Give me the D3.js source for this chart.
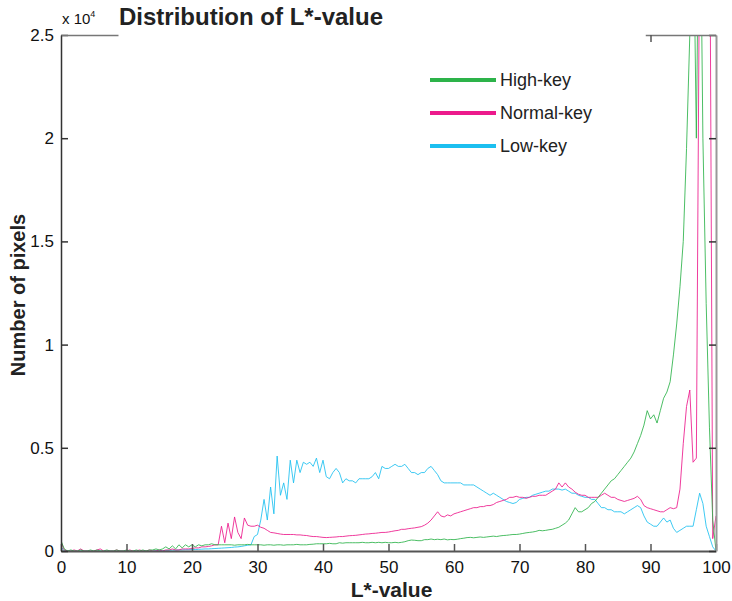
<!DOCTYPE html>
<html>
<head>
<meta charset="utf-8">
<script src="https://cdn.jsdelivr.net/npm/d3@7"></script>
<style>
  body { margin: 0; background: #fff; }
  text { font-family: "Liberation Sans", Arial, Helvetica, sans-serif; }
</style>
</head>
<body>
<div id="root"></div>
<script>
// L* bins, every 0.5 from 0 to 100
const lBins = d3.range(0, 100.5, 0.5)

// counts in units of 10^4 pixels, one per bin
const highKey = [
  0.05, 0.01, 0, 0.005, 0, 0, 0.005, 0, 0, 0.005,
  0, 0.005, 0, 0, 0.005, 0, 0, 0.005, 0, 0,
  0.005, 0, 0, 0.005, 0, 0.005, 0, 0.005, 0.005, 0.01,
  0.005, 0.01, 0.02, 0.01, 0.025, 0.01, 0.03, 0.015, 0.03, 0.02,
  0.03, 0.02, 0.03, 0.025, 0.03, 0.03, 0.035, 0.03, 0.03, 0.03,
  0.03, 0.03, 0.03, 0.028, 0.03, 0.03, 0.03, 0.032, 0.03, 0.03,
  0.03, 0.03, 0.028, 0.03, 0.03, 0.028, 0.03, 0.03, 0.028, 0.03,
  0.03, 0.03, 0.032, 0.03, 0.03, 0.03, 0.032, 0.033, 0.035, 0.035,
  0.035, 0.035, 0.037, 0.035, 0.035, 0.04, 0.038, 0.04, 0.04, 0.04,
  0.04, 0.04, 0.042, 0.04, 0.04, 0.042, 0.04, 0.042, 0.04, 0.042,
  0.04, 0.04, 0.042, 0.04, 0.042, 0.045, 0.05, 0.053, 0.052, 0.05,
  0.05, 0.055, 0.055, 0.058, 0.055, 0.057, 0.055, 0.058, 0.054, 0.056,
  0.055, 0.057, 0.06, 0.062, 0.065, 0.066, 0.064, 0.066, 0.068, 0.066,
  0.068, 0.07, 0.072, 0.07, 0.073, 0.075, 0.076, 0.078, 0.08, 0.08,
  0.082, 0.085, 0.088, 0.09, 0.092, 0.095, 0.1, 0.098, 0.1, 0.103,
  0.105, 0.11, 0.115, 0.125, 0.135, 0.15, 0.18, 0.21, 0.19, 0.19,
  0.2, 0.21, 0.23, 0.24, 0.26, 0.28, 0.3, 0.32, 0.34, 0.35,
  0.37, 0.39, 0.41, 0.43, 0.45, 0.48, 0.52, 0.56, 0.61, 0.68,
  0.64, 0.66, 0.62, 0.68, 0.74, 0.77, 0.82, 0.95, 1.1, 1.28,
  1.5, 1.95, 2.5, 3.2, 2.0, 3.5, 2.0, 1.2, 0.6, 0.15,
  0
]

const normalKey = [
  0.045, 0.005, 0, 0, 0.005, 0, 0.01, 0, 0, 0,
  0, 0.005, 0.01, 0, 0, 0, 0, 0.005, 0, 0,
  0, 0.005, 0, 0, 0.005, 0, 0, 0.005, 0, 0,
  0.005, 0, 0.005, 0.005, 0.01, 0.005, 0.005, 0.01, 0.01, 0.01,
  0.012, 0.015, 0.015, 0.02, 0.02, 0.022, 0.025, 0.03, 0.03, 0.12,
  0.04, 0.135, 0.06, 0.165, 0.09, 0.06, 0.16, 0.125, 0.12, 0.12,
  0.125, 0.115, 0.11, 0.1, 0.09, 0.088, 0.085, 0.082, 0.08, 0.08,
  0.08, 0.08, 0.078, 0.078, 0.076, 0.075, 0.072, 0.07, 0.07, 0.068,
  0.066, 0.065, 0.066, 0.067, 0.068, 0.07, 0.07, 0.072, 0.074, 0.075,
  0.076, 0.078, 0.08, 0.082, 0.083, 0.085, 0.086, 0.088, 0.09, 0.09,
  0.092, 0.095, 0.098, 0.1, 0.105, 0.105, 0.108, 0.11, 0.112, 0.115,
  0.118, 0.125, 0.135, 0.15, 0.17, 0.19, 0.17, 0.165, 0.175, 0.17,
  0.18, 0.185, 0.19, 0.195, 0.2, 0.205, 0.21, 0.21, 0.215, 0.215,
  0.22, 0.22, 0.225, 0.235, 0.24, 0.245, 0.25, 0.26, 0.26, 0.265,
  0.26, 0.26, 0.255, 0.26, 0.265, 0.265, 0.27, 0.27, 0.27, 0.28,
  0.29, 0.3, 0.33, 0.31, 0.33, 0.31, 0.3, 0.285, 0.275, 0.27,
  0.27, 0.26, 0.26, 0.26, 0.26, 0.27, 0.28, 0.27, 0.26, 0.26,
  0.25, 0.245, 0.24, 0.245, 0.25, 0.255, 0.265, 0.25, 0.22, 0.21,
  0.205, 0.2, 0.195, 0.19, 0.19, 0.2, 0.21, 0.205, 0.21, 0.3,
  0.52, 0.7, 0.78, 0.43, 0.45, 3.0, 3.5, 4.0, 3.5, 0.06,
  0.17
]

const lowKey = [
  0.02, 0, 0, 0, 0, 0, 0, 0, 0, 0,
  0, 0, 0, 0, 0, 0, 0, 0, 0, 0,
  0, 0, 0, 0, 0, 0, 0, 0, 0, 0.002,
  0.002, 0.002, 0.003, 0.003, 0.004, 0.004, 0.005, 0.005, 0.006, 0.006,
  0.007, 0.007, 0.008, 0.009, 0.01, 0.01, 0.011, 0.012, 0.013, 0.014,
  0.015, 0.016, 0.017, 0.019, 0.02, 0.022, 0.025, 0.028, 0.03, 0.07,
  0.08, 0.15, 0.25, 0.15, 0.31, 0.18, 0.46, 0.27, 0.33, 0.25,
  0.44, 0.33, 0.44, 0.38, 0.43, 0.42, 0.43, 0.41, 0.45, 0.38,
  0.44, 0.36, 0.35, 0.38, 0.4, 0.38, 0.33, 0.35, 0.34, 0.34,
  0.33, 0.35, 0.35, 0.35, 0.35, 0.36, 0.38, 0.35, 0.41, 0.4,
  0.4, 0.41, 0.42, 0.41, 0.41, 0.42, 0.4, 0.38, 0.38, 0.37,
  0.38, 0.38, 0.4, 0.41, 0.39, 0.37, 0.34, 0.33, 0.33, 0.33,
  0.33, 0.33, 0.33, 0.32, 0.32, 0.32, 0.32, 0.31, 0.3, 0.29,
  0.28, 0.27, 0.28, 0.27, 0.26, 0.25, 0.24, 0.235, 0.23, 0.235,
  0.25, 0.255, 0.26, 0.26, 0.27, 0.275, 0.28, 0.285, 0.29, 0.29,
  0.3, 0.3, 0.3, 0.295, 0.3, 0.29, 0.28, 0.28, 0.27, 0.265,
  0.26, 0.26, 0.25, 0.25, 0.23, 0.21, 0.21, 0.2, 0.2, 0.19,
  0.19, 0.19, 0.18, 0.19, 0.2, 0.21, 0.22, 0.21, 0.17, 0.14,
  0.13, 0.12, 0.12, 0.14, 0.16, 0.14, 0.15, 0.11, 0.09, 0.1,
  0.11, 0.12, 0.12, 0.12, 0.2, 0.28, 0.23, 0.12, 0.07, 0.02,
  0
]

const seriesNames = ['High-key', 'Normal-key', 'Low-key']
const seriesColors = ['#2db34a', '#ec1a8c', '#1cbff0']
const seriesValues = [highKey, normalKey, lowKey]

const xTicks = [0, 10, 20, 30, 40, 50, 60, 70, 80, 90, 100]
const yTicks = [0, 0.5, 1, 1.5, 2, 2.5]

const w = 732
const h = 601
const margin = { left: 61, right: 16, top: 35, bottom: 50 }

const xScale = d3.scaleLinear()
  .domain([0, 100])
  .range([margin.left, w - margin.right])

const yScale = d3.scaleLinear()
  .domain([0, 2.5])
  .range([h - margin.bottom, margin.top])

const svg = d3.select('#root')
  .append('svg')
  .attr('width', w)
  .attr('height', h)

svg.append('clipPath')
  .attr('id', 'plot-clip')
  .append('rect')
    .attr('x', margin.left)
    .attr('y', margin.top)
    .attr('width', xScale(100) - xScale(0))
    .attr('height', yScale(0) - yScale(2.5))

const line = d3.line()
  .x((d, i) => xScale(lBins[i]))
  .y(d => yScale(d))

const lines = svg.append('g')
  .attr('clip-path', 'url(#plot-clip)')

// drawn in reverse so that green sits on top like the original
seriesValues.slice().reverse().forEach((vals, j) => {
  const k = seriesValues.length - 1 - j
  lines.append('path')
    .datum(vals)
    .attr('fill', 'none')
    .attr('stroke', seriesColors[k])
    .attr('stroke-width', 1)
    .attr('stroke-opacity', 0.85)
    .attr('d', line)
})

const tickLen = 7

// bottom axis, ticks inside
const xAxis = d3.axisBottom(xScale)
  .tickValues(xTicks)
  .tickSizeInner(-tickLen)
  .tickSizeOuter(0)
  .tickPadding(10)

const gx = svg.append('g')
  .attr('transform', 'translate(0,' + yScale(0) + ')')
  .call(xAxis)
gx.select('.domain').attr('stroke', '#555').attr('stroke-width', 2)
gx.selectAll('.tick line').attr('stroke', '#555').attr('stroke-width', 1.5)
gx.selectAll('.tick text')
  .attr('font-size', 17)
  .attr('fill', '#111')
  .style('font-family', '"Liberation Sans", Arial, sans-serif')

// left axis
const yAxis = d3.axisLeft(yScale)
  .tickValues(yTicks)
  .tickFormat(d => d)
  .tickSizeInner(-tickLen)
  .tickSizeOuter(0)
  .tickPadding(7)

const gy = svg.append('g')
  .attr('transform', 'translate(' + xScale(0) + ',0)')
  .call(yAxis)
gy.select('.domain').attr('stroke', '#333').attr('stroke-width', 1.5)
gy.selectAll('.tick line').attr('stroke', '#333').attr('stroke-width', 1.5)
gy.selectAll('.tick text')
  .attr('font-size', 17)
  .attr('fill', '#111')
  .style('font-family', '"Liberation Sans", Arial, sans-serif')

// right axis, no labels
const gr = svg.append('g')
  .attr('transform', 'translate(' + xScale(100) + ',0)')
  .call(d3.axisRight(yScale).tickValues(yTicks).tickFormat('').tickSizeInner(-tickLen).tickSizeOuter(0))
gr.select('.domain').attr('stroke', '#999').attr('stroke-width', 2)
gr.selectAll('.tick line').attr('stroke', '#333').attr('stroke-width', 1.5)

// top border is only visible outside the title box
const topSegments = [[0, 8.7], [89.2, 100]]
topSegments.forEach(seg => {
  const gt = svg.append('g')
    .attr('transform', 'translate(0,' + yScale(2.5) + ')')
    .call(d3.axisTop(xScale.copy().domain(seg).range(seg.map(xScale)))
      .tickValues(xTicks.filter(t => t > seg[0] && t < seg[1]))
      .tickFormat('')
      .tickSizeInner(-tickLen)
      .tickSizeOuter(0))
  gt.select('.domain').attr('stroke', '#777').attr('stroke-width', 1.5)
  gt.selectAll('.tick line').attr('stroke', '#555').attr('stroke-width', 1.5)
})

// exponent label
const expo = svg.append('text')
  .attr('x', xScale(0) + 1)
  .attr('y', yScale(2.5) - 11)
  .attr('font-size', 15)
  .attr('fill', '#111')
expo.append('tspan').text('x 10')
expo.append('tspan').attr('font-size', 9).attr('dy', -7).text('4')

// title
svg.append('text')
  .attr('x', 119)
  .attr('y', 25)
  .attr('font-size', 24)
  .attr('font-weight', 'bold')
  .attr('fill', '#222')
  .text('Distribution of L*-value')

// axis titles
svg.append('text')
  .attr('x', (xScale(0) + xScale(100)) / 2 + 3)
  .attr('y', 597)
  .attr('text-anchor', 'middle')
  .attr('font-size', 21)
  .attr('font-weight', 'bold')
  .attr('fill', '#222')
  .text('L*-value')

svg.append('text')
  .attr('transform', 'translate(25,' + 295 + ') rotate(-90)')
  .attr('text-anchor', 'middle')
  .attr('font-size', 20)
  .attr('font-weight', 'bold')
  .attr('fill', '#222')
  .text('Number of pixels')

// legend
const legend = svg.append('g')
  .attr('transform', 'translate(430, 80)')

seriesNames.forEach((name, i) => {
  const row = legend.append('g')
    .attr('transform', 'translate(0,' + i * 33 + ')')
  row.append('line')
    .attr('x1', 0)
    .attr('x2', 66)
    .attr('stroke', seriesColors[i])
    .attr('stroke-width', 4)
  row.append('text')
    .attr('x', 70)
    .attr('y', 6)
    .attr('font-size', 18)
    .attr('fill', '#222')
    .text(name)
})
</script>
</body>
</html>
